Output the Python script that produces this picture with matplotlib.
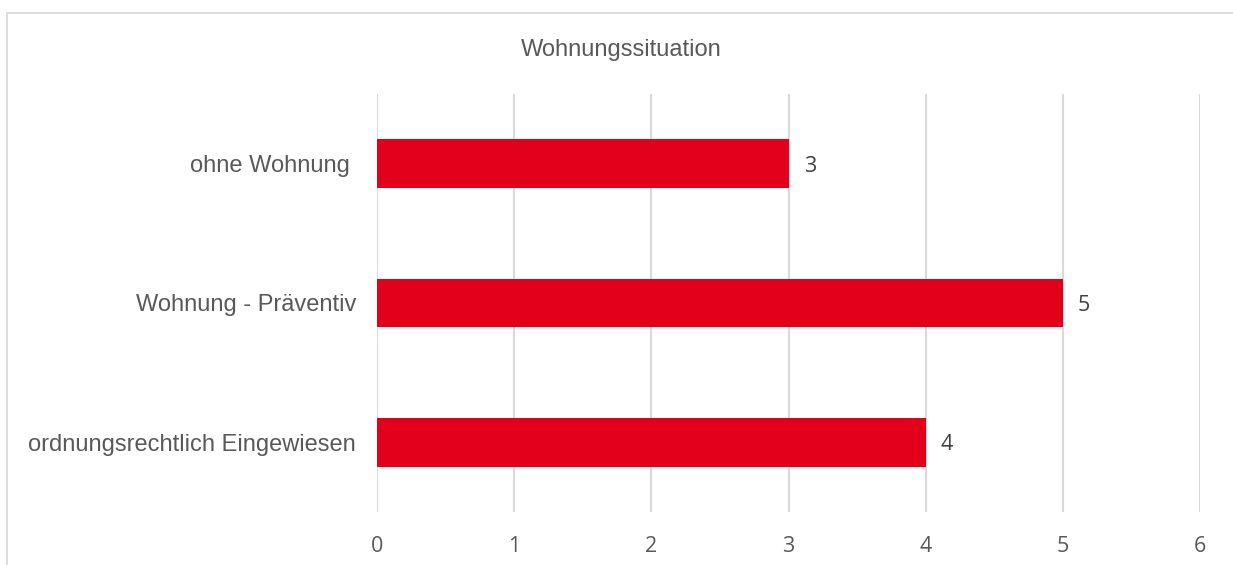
import matplotlib.pyplot as plt
from matplotlib.patches import Rectangle

# Data
categories = ["ordnungsrechtlich Eingewiesen", "Wohnung - Präventiv", "ohne Wohnung "]
values = [4, 5, 3]
x_ticks = [0, 1, 2, 3, 4, 5, 6]

bar_color = "#E2001A"
grid_color = "#D9D9D9"
text_color = "#595959"

W, H = 1233, 565
fig = plt.figure(figsize=(W / 100, H / 100), dpi=100)
ax = fig.add_axes([377 / W, 1 - 512 / H, (1200 - 377) / W, (512 - 94) / H])

# outer chart frame (cropped on the right and bottom)
fig.patches.append(Rectangle((7 / W, -0.05), 1.1, 1 - 12.5 / H + 0.05,
                             transform=fig.transFigure, fill=False,
                             edgecolor=grid_color, linewidth=1.3, zorder=0))

ypos = list(range(len(categories)))
ax.barh(ypos, values, height=0.35, color=bar_color, zorder=3)

for y, v in zip(ypos, values):
    ax.annotate(str(v), (v, y), xytext=(11, 0), textcoords="offset points",
                va="center_baseline", ha="left", fontsize=15.5, color="#404040",
                family=["Open Sans", "DejaVu Sans"])

ax.set_xlim(0, 6)
ax.set_ylim(-0.5, 2.5)
ax.set_xticks(x_ticks)
ax.set_xticklabels([str(t) for t in x_ticks], fontsize=15.5, color=text_color,
                   family=["Open Sans", "DejaVu Sans"])
ax.set_yticks(ypos)
ax.set_yticklabels(categories, fontsize=17, color=text_color,
                   family=["Liberation Sans", "DejaVu Sans"])
ax.tick_params(axis="x", length=0, pad=17)
ax.tick_params(axis="y", length=0, pad=15)

ax.grid(axis="x", color=grid_color, linewidth=1.5, zorder=0)
for s in ax.spines.values():
    s.set_visible(False)

fig.text(621 / W, 1 - 50 / H, "Wohnungssituation", ha="center", va="center",
         fontsize=17, color=text_color, family=["Liberation Sans", "DejaVu Sans"])

fig.savefig("out.png", dpi=100, facecolor="white")
